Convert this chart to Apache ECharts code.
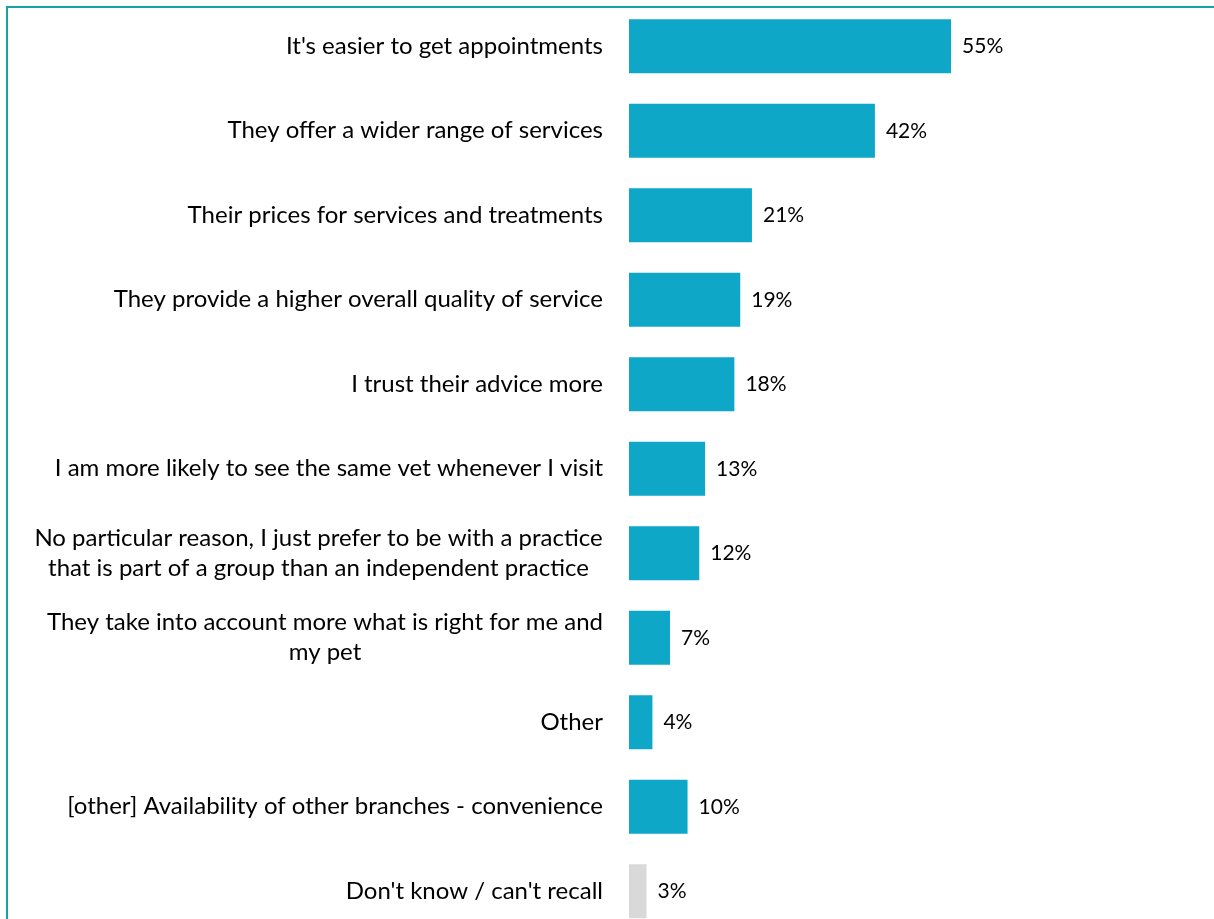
<!DOCTYPE html>
<html>
<head>
<meta charset="utf-8">
<style>
  html, body { margin: 0; padding: 0; background: #ffffff; }
  #chart { width: 1214px; height: 919px; }
</style>
<script src="https://cdn.jsdelivr.net/npm/echarts@6/dist/echarts.min.js"></script>
</head>
<body>
<div id="chart"></div>
<script>
// Reasons for preferring a group practice (share of respondents, %)
const categories = [
  "It's easier to get appointments",
  "They offer a wider range of services",
  "Their prices for services and treatments",
  "They provide a higher overall quality of service",
  "I trust their advice more",
  "I am more likely to see the same vet whenever I visit",
  "No particular reason, I just prefer to be with a practice\nthat is part of a group than an independent practice",
  "They take into account more what is right for me and\nmy pet",
  "Other",
  "[other] Availability of other branches - convenience",
  "Don't know / can't recall"
];
const values = [55, 42, 21, 19, 18, 13, 12, 7, 4, 10, 3];
const neutralCategory = "Don't know / can't recall";

const FONT = 'Lato';
const LABEL_SIZE = 24;
const VALUE_SIZE = 21;
const BAR_COLOR = '#0ea7c8';
const NEUTRAL_COLOR = '#d9d9d9';
const FRAME_COLOR = '#17a3a6';

// multi-line labels: each line is centred inside a box as wide as its longest line,
// and the box itself sits right-aligned against the bars
const ctx = document.createElement('canvas').getContext('2d');
ctx.font = LABEL_SIZE + 'px ' + FONT;
const richStyles = {};
categories.forEach((c, i) => {
  const lines = c.split('\n');
  if (lines.length < 2) return;
  const w = Math.ceil(Math.max.apply(null, lines.map(l => ctx.measureText(l).width)));
  richStyles['c' + i] = {
    fontFamily: FONT, fontSize: LABEL_SIZE, lineHeight: 30, color: '#000000',
    width: w, align: 'center'
  };
});
function labelFormatter(value, index) {
  const lines = value.split('\n');
  if (lines.length === 1) return value;
  return lines.map(l => '{c' + index + '|' + l + '}').join('\n');
}

const chart = echarts.init(document.getElementById('chart'), null, { renderer: 'canvas' });
chart.setOption({
  backgroundColor: '#ffffff',
  animation: false,
  // the plot runs past the bottom edge, so the last bar is cut off
  grid: { left: 629, width: 351.3, top: 4, height: 929.5, containLabel: false, outerBoundsMode: 'none' },
  xAxis: {
    type: 'value', min: 0, max: 60, show: false
  },
  yAxis: {
    type: 'category',
    data: categories,
    inverse: true,
    axisLine: { show: false },
    axisTick: { show: false },
    splitLine: { show: false },
    axisLabel: {
      margin: 26,
      color: '#000000',
      fontFamily: FONT,
      fontSize: LABEL_SIZE,
      lineHeight: 30,
      align: 'right',
      formatter: labelFormatter,
      rich: richStyles
    }
  },
  series: [{
    type: 'bar',
    barWidth: 54,
    data: values.map((v, i) => ({
      value: v,
      itemStyle: { color: categories[i] === neutralCategory ? NEUTRAL_COLOR : BAR_COLOR }
    })),
    label: {
      show: true,
      position: 'right',
      distance: 11,
      color: '#000000',
      fontFamily: FONT,
      fontSize: VALUE_SIZE,
      formatter: p => p.value + '%'
    }
  }],
  graphic: [{
    type: 'rect',
    shape: { x: 7, y: 7, width: 1400, height: 1100 },
    style: { fill: null, stroke: FRAME_COLOR, lineWidth: 2 },
    silent: true,
    z: 10
  }]
});
</script>
</body>
</html>
